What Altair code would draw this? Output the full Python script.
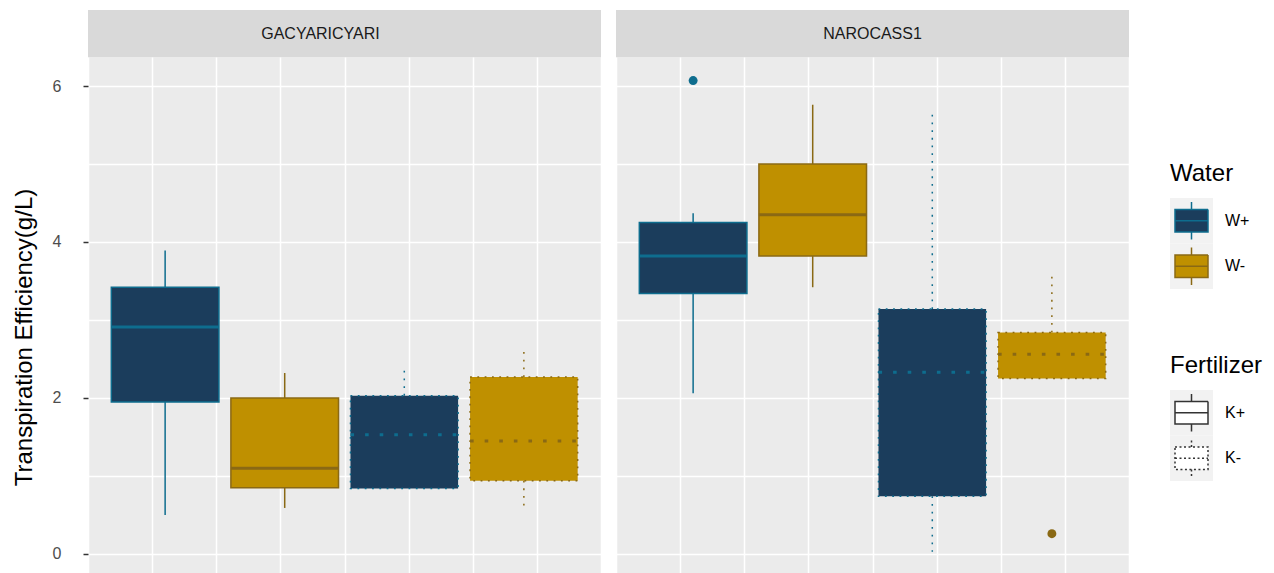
import altair as alt
import numpy as np
import pandas as pd

# ---- data -------------------------------------------------------------
genotypes = ["GACYARICYARI", "NAROCASS1"]

# box order inside each genotype panel
water = ["W+", "W-", "W+", "W-"]
fertilizer = ["K+", "K+", "K-", "K-"]
slot = [1, 2, 3, 4]

# five-number summaries (lower whisker, Q1, median, Q3, upper whisker)
lower = {"GACYARICYARI": [0.50, 0.59, 0.84, 0.60], "NAROCASS1": [2.06, 3.42, 0.03, 2.25]}
q1 = {"GACYARICYARI": [1.95, 0.85, 0.84, 0.94], "NAROCASS1": [3.34, 3.82, 0.74, 2.25]}
median = {"GACYARICYARI": [2.91, 1.10, 1.53, 1.45], "NAROCASS1": [3.82, 4.35, 2.33, 2.56]}
q3 = {"GACYARICYARI": [3.42, 2.00, 2.03, 2.27], "NAROCASS1": [4.25, 5.00, 3.14, 2.84]}
upper = {"GACYARICYARI": [3.89, 2.32, 2.35, 2.61], "NAROCASS1": [4.37, 5.76, 5.67, 3.57]}

# outlying observations
out_genotype = ["NAROCASS1", "NAROCASS1"]
out_water = ["W+", "W-"]
out_fertilizer = ["K+", "K-"]
out_slot = [1, 4]
out_value = [6.07, 0.26]

y_ticks = [0, 1, 2, 3, 4, 5, 6]

# ---- styling ----------------------------------------------------------
FONT = "Liberation Sans"
FILL = {"W+": "#1B3D5C", "W-": "#BF9000"}
LINE = {"W+": "#0E6D8E", "W-": "#8A6914"}
PANEL_W, PANEL_H, STRIP_H = 513, 516, 47
BOX_W = 0.9
LW = 1.5
# dash patterns of the K- boxes: outline, whisker, median
DASH = {"K+": None, "K-": {"box": [1.8, 5.5], "whisker": [1.8, 5.9], "median": [3.6, 11]}}
# horizontal nudge of each strip label
STRIP_DX = {"GACYARICYARI": -24, "NAROCASS1": 0}

rows = []
for g in genotypes:
    for i in range(4):
        rows.append(dict(genotype=g, water=water[i], fert=fertilizer[i], slot=slot[i],
                         lower=lower[g][i], q1=q1[g][i], median=median[g][i],
                         q3=q3[g][i], upper=upper[g][i]))
boxes_df = pd.DataFrame(rows)
out_df = pd.DataFrame(dict(genotype=out_genotype, water=out_water, fert=out_fertilizer,
                           slot=out_slot, value=out_value))

# x range: box extent plus 5% expansion on each side, gridlines at eighths
x_lo, x_hi = min(slot) - BOX_W / 2, max(slot) + BOX_W / 2
pad = 0.05 * (x_hi - x_lo)
x_dom = [x_lo - pad, x_hi + pad]
x_grid = [float(v) for v in np.linspace(x_dom[0], x_dom[1], 9)]

all_y = [v for g in genotypes for v in lower[g] + upper[g]] + out_value
y_pad = 0.05 * (max(all_y) - min(all_y))
y_dom = [-0.244, max(all_y) + y_pad]

water_dom = ["W+", "W-"]
fill_scale = alt.Scale(domain=water_dom, range=[FILL[w] for w in water_dom])
line_scale = alt.Scale(domain=water_dom, range=[LINE[w] for w in water_dom])

xs = alt.Scale(domain=x_dom, nice=False, zero=False)
ys = alt.Scale(domain=y_dom, nice=False, zero=False)

x_axis = alt.Axis(values=x_grid, labels=False, ticks=False, domain=False, grid=True,
                  gridColor="white", gridWidth=LW, title=None)


def y_axis(show):
    if show:
        return alt.Axis(
            values=y_ticks, format="d", grid=True, gridColor="white", gridWidth=LW,
            domain=False,
            labelExpr="datum.value % 2 === 0 ? datum.label : ''",
            tickColor={"condition": {"test": "datum.value % 2 === 0", "value": "#333333"},
                       "value": "rgba(0,0,0,0)"},
            tickSize=5, tickWidth=LW, labelPadding=22, labelFont=FONT, labelFontSize=16,
            labelColor="#4D4D4D", title="Transpiration Efficiency(g/L)", titleFont=FONT,
            titleFontSize=24, titleFontWeight="normal", titleColor="black", titlePadding=16,
            titleY=280,
        )
    return alt.Axis(values=y_ticks, grid=True, gridColor="white", gridWidth=LW, domain=False,
                    labels=False, ticks=False, title=None)


def panel(g, show_axis):
    stroke = alt.Stroke("water:N", scale=line_scale, legend=None)
    fill = alt.Fill("water:N", scale=fill_scale, legend=None)
    layers = []
    first = True
    for f in ["K+", "K-"]:
        d = DASH[f]
        base = alt.Chart(boxes_df).transform_filter(
            (alt.datum.genotype == g) & (alt.datum.fert == f)).transform_calculate(
            x0=f"datum.slot - {BOX_W / 2}", x1=f"datum.slot + {BOX_W / 2}")
        dash = (lambda k: {"strokeDash": d[k]} if d else {})
        if first:
            wx = alt.X("slot:Q", scale=xs, axis=x_axis)
            wy = alt.Y("q1:Q", scale=ys, axis=y_axis(show_axis))
        else:
            wx = alt.X("slot:Q", scale=xs)
            wy = alt.Y("q1:Q", scale=ys)
        whisk_lo = base.mark_rule(strokeWidth=LW, **dash("whisker")).encode(
            x=wx, y=wy, y2="lower:Q", stroke=stroke)
        whisk_hi = base.mark_rule(strokeWidth=LW, **dash("whisker")).encode(
            x=alt.X("slot:Q", scale=xs), y=alt.Y("q3:Q", scale=ys), y2="upper:Q",
            stroke=stroke)
        box = base.mark_rect(strokeWidth=LW, **dash("box")).encode(
            x=alt.X("x0:Q", scale=xs), x2="x1:Q",
            y=alt.Y("q1:Q", scale=ys), y2="q3:Q", fill=fill, stroke=stroke)
        med = base.mark_rule(strokeWidth=2 * LW, **dash("median")).encode(
            x=alt.X("x0:Q", scale=xs), x2="x1:Q", y=alt.Y("median:Q", scale=ys),
            stroke=stroke)
        layers += [whisk_lo, whisk_hi, box, med]
        first = False
    pts = alt.Chart(out_df).transform_filter(alt.datum.genotype == g).mark_circle(
        size=80, opacity=1).encode(
        x=alt.X("slot:Q", scale=xs), y=alt.Y("value:Q", scale=ys),
        color=alt.Color("water:N", scale=line_scale, legend=None))
    layers.append(pts)

    plot = alt.layer(*layers).properties(
        width=PANEL_W, height=PANEL_H,
        view=alt.ViewBackground(fill="#EBEBEB", stroke=None))

    strip = alt.Chart(pd.DataFrame({"label": [g]})).mark_text(
        font=FONT, fontSize=16, color="#1A1A1A", dx=STRIP_DX[g]).encode(
        text="label:N", x=alt.value(PANEL_W / 2), y=alt.value(STRIP_H / 2)).properties(
        width=PANEL_W, height=STRIP_H,
        view=alt.ViewBackground(fill="#D9D9D9", stroke=None))
    return alt.vconcat(strip, plot, spacing=0)


# ---- legends ----------------------------------------------------------
BOX_GLYPH = "M-1,-0.68H1V0.68H-1Z M-1,0H1 M0,-0.68V-1.14 M0,0.68V1.14"
LEG_W = 100


def legend_keys(entries, fill, stroke, dash):
    df = pd.DataFrame({"entry": entries})
    y = alt.Y("entry:N", scale=alt.Scale(domain=entries, paddingInner=0, paddingOuter=0),
              axis=None)
    bg = alt.Chart(df).mark_rect(fill="#F2F2F2").encode(y=y, x=alt.value(0), x2=alt.value(43))
    glyph = alt.Chart(df).mark_point(shape=BOX_GLYPH, size=33 * 33, filled=True, opacity=1,
                                     strokeWidth=LW).encode(
        y=y, x=alt.value(21.5), fill=fill, stroke=stroke, strokeDash=dash)
    label = alt.Chart(df).mark_text(align="left", font=FONT, fontSize=16, color="black").encode(
        y=y, x=alt.value(55), text="entry:N")
    return alt.layer(bg, glyph, label).properties(
        width=LEG_W, height=91, view=alt.ViewBackground(stroke=None))


def legend_title(text, h):
    # title text sits 17px above the keys that follow it
    return alt.Chart(pd.DataFrame({"t": [text]})).mark_text(
        align="left", baseline="alphabetic", font=FONT, fontSize=24, color="black").encode(
        text="t:N", x=alt.value(0), y=alt.value(h - 17)).properties(
        width=LEG_W, height=h, view=alt.ViewBackground(stroke=None))


water_keys = legend_keys(
    water_dom,
    alt.Fill("entry:N", scale=fill_scale, legend=None),
    alt.Stroke("entry:N", scale=line_scale, legend=None),
    alt.value([1, 0]))
fert_dom = ["K+", "K-"]
fert_keys = legend_keys(
    fert_dom,
    alt.value("white"), alt.value("#333333"),
    alt.condition(alt.datum.entry == "K-", alt.value([2, 2.5]), alt.value([1, 0])))

legend_col = alt.vconcat(legend_title("Water", 188), water_keys,
                         legend_title("Fertilizer", 101), fert_keys, spacing=0)

panels = alt.hconcat(panel(genotypes[0], True), panel(genotypes[1], False), spacing=15)

chart = alt.hconcat(panels, legend_col, spacing=41).properties(
    padding={"left": 12, "top": 10, "right": 0, "bottom": 0},
    background="white",
).configure_view(stroke=None)

chart.save("out.html", embed_options={"renderer": "svg", "actions": False})
